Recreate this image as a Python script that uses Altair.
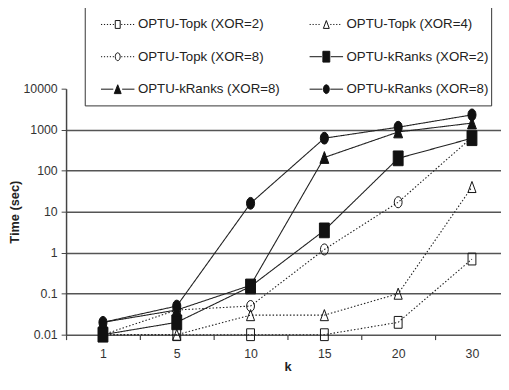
import altair as alt
import pandas as pd

# ---------------- data ----------------
k_values = ["1", "5", "10", "15", "20", "30"]
series_keys = ["topk2", "topk4", "topk8", "kranks2", "kranks8_tri", "kranks8_circ"]
legend_labels = [
    "OPTU-Topk (XOR=2)",
    "OPTU-Topk (XOR=4)",
    "OPTU-Topk (XOR=8)",
    "OPTU-kRanks (XOR=2)",
    "OPTU-kRanks (XOR=8)",
    "OPTU-kRanks (XOR=8)",
]
topk_xor2 = [0.01, 0.01, 0.01, 0.01, 0.02, 0.7]
topk_xor4 = [0.01, 0.01, 0.03, 0.03, 0.1, 40]
topk_xor8 = [0.01, 0.04, 0.05, 1.2, 17, 650]
kranks_xor2 = [0.01, 0.02, 0.15, 3.5, 200, 620]
kranks_tri = [0.02, 0.04, 0.16, 210, 880, 1450]
kranks_circ = [0.02, 0.05, 16, 620, 1150, 2300]
y_ticks = [0.01, 0.1, 1, 10, 100, 1000, 10000]

series_values = [topk_xor2, topk_xor4, topk_xor8, kranks_xor2, kranks_tri, kranks_circ]

rows = []
for key, vals in zip(series_keys, series_values):
    for k, v in zip(k_values, vals):
        rows.append({"series": key, "k": k, "time": v})
df = pd.DataFrame(rows)

# ---------------- styling helpers ----------------
FONT = "Liberation Sans"
INK = "#111111"
BAND = 75  # category width in px (the last category runs past the right edge)


def rect(w, h):
    return f"M{-w:.3f},{-h:.3f}H{w:.3f}V{h:.3f}H{-w:.3f}Z"


def tri(w, h):
    return f"M0,{-h:.3f}L{w:.3f},{h:.3f}H{-w:.3f}Z"


def ell(w, h):
    return (f"M0,{-h:.3f}A{w:.3f},{h:.3f} 0 1,1 0,{h:.3f}"
            f"A{w:.3f},{h:.3f} 0 1,1 0,{-h:.3f}Z")


# chart markers (unit = sqrt(size)/2 = 7.5 px)
chart_shapes = [
    rect(0.53, 0.80),
    tri(0.55, 0.75),
    ell(0.53, 0.75),
    rect(0.67, 1.00),
    tri(0.60, 0.80),
    ell(0.55, 0.80),
]

# legend symbols: line segment + marker (unit = 17 px)
U = 17.0


def dotted(x0, x1):
    step = 3.0 / U
    d = 1.2 / U
    parts = []
    x = x0
    while x + d <= x1 + 1e-9:
        parts.append(f"M{x:.3f},0h{d:.3f}")
        x += step
    return "".join(parts)


def solid(x0, x1):
    return f"M{x0:.3f},0H{x1:.3f}"


def leg(line_fn, marker, half_w):
    gap = 1.0 / U
    # trailing move-to extends each entry's bounds downward (row spacing)
    return (line_fn(-1.0, -half_w - gap) + line_fn(half_w + gap, 1.0) + marker
            + f"M0,{12 / U:.3f}")


legend_shapes = [
    leg(dotted, rect(2.5 / U, 4 / U), 2.5 / U),
    leg(dotted, tri(3 / U, 4 / U), 3 / U),
    leg(dotted, ell(2.5 / U, 4 / U), 2.5 / U),
    leg(solid, rect(3.5 / U, 5.5 / U), 3.5 / U),
    leg(solid, tri(3.5 / U, 4.5 / U), 3.5 / U),
    leg(solid, ell(3 / U, 4.5 / U), 3 / U),
]

fills = ["transparent", "transparent", "transparent", INK, INK, INK]
dashes = [[1.5, 2], [1.5, 2], [1.5, 2], [1, 0], [1, 0], [1, 0]]

# legend entries are laid out column by column (3 rows x 2 columns)
legend_order = [0, 2, 4, 1, 3, 5]
leg_keys = [series_keys[i] for i in legend_order]
leg_shapes = [legend_shapes[i] for i in legend_order]
leg_fills = [fills[i] for i in legend_order]

label_expr = " : ".join(
    f"datum.label == '{k}' ? '{l}'" for k, l in zip(series_keys, legend_labels)
) + " : datum.label"

legend_props = dict(
    orient="none",
    legendX=19,
    legendY=-85,
    columns=2,
    title=None,
    titlePadding=0,
    labelExpr=label_expr,
    labelFont=FONT,
    labelFontSize=13.5,
    labelColor="#222",
    labelLimit=0,
    labelOffset=3,
    symbolOffset=14,
    symbolSize=(2 * U) ** 2,
    symbolStrokeColor=INK,
    symbolStrokeWidth=1,
    columnPadding=15,
    rowPadding=1,
    padding=2,
    strokeColor="#333",
    fillColor="white",
)

x_enc = alt.X(
    "k:N",
    sort=k_values,
    scale=alt.Scale(domain=k_values, range=[0, BAND * len(k_values)],
                    paddingInner=0, paddingOuter=0),
    axis=alt.Axis(
        title="k",
        labelAngle=0,
        domain=False,
        tickSize=5,
        tickColor="#444",
        tickWidth=1.2,
        tickOffset=-BAND / 2,
        labelOffset=BAND / 2,
        labelPadding=8,
        labelFont=FONT,
        labelFontSize=12.5,
        labelColor="#333",
        titleFont=FONT,
        titleFontSize=13,
        titleFontWeight="bold",
        titleColor="#222",
        titlePadding=1,
        grid=False,
    ),
)

y_enc = alt.Y(
    "time:Q",
    scale=alt.Scale(type="log", domain=[0.01, 10000]),
    axis=alt.Axis(
        values=y_ticks,
        format="~g",
        title="Time (sec)",
        tickSize=5,
        tickColor="#444",
        domainColor="#444",
        domainWidth=1.5,
        labelPadding=4,
        labelFont=FONT,
        labelFontSize=12.5,
        labelColor="#333",
        titleFont=FONT,
        titleFontSize=13,
        titleFontWeight="bold",
        titleColor="#222",
        titlePadding=2,
        grid=True,
        gridColor="#555",
        gridWidth=1.5,
        gridOpacity=alt.condition("datum.value >= 10000", alt.value(0), alt.value(1)),
    ),
)

lines = alt.Chart(df).mark_line(color="#222", strokeWidth=1.1).encode(
    x=x_enc,
    y=y_enc,
    detail="series:N",
    strokeDash=alt.StrokeDash(
        "series:N",
        scale=alt.Scale(domain=series_keys, range=dashes),
        legend=None,
    ),
)

points = alt.Chart(df).mark_point(
    filled=True, stroke=INK, strokeWidth=1, size=225, opacity=1
).encode(
    x=x_enc,
    y=y_enc,
    shape=alt.Shape("series:N", scale=alt.Scale(domain=series_keys, range=chart_shapes), legend=None),
    fill=alt.Fill("series:N", scale=alt.Scale(domain=series_keys, range=fills), legend=None),
)

legend_layer = alt.Chart(df).transform_filter("false").mark_point(
    filled=True, stroke=INK, strokeWidth=1, size=(2 * U) ** 2, opacity=1
).encode(
    x=x_enc,
    y=y_enc,
    shape=alt.Shape(
        "series:N",
        scale=alt.Scale(domain=leg_keys, range=leg_shapes),
        legend=alt.Legend(**legend_props),
    ),
    fill=alt.Fill(
        "series:N",
        scale=alt.Scale(domain=leg_keys, range=leg_fills),
        legend=alt.Legend(**legend_props),
    ),
    stroke=alt.Stroke(
        "series:N",
        scale=alt.Scale(domain=leg_keys, range=[INK] * 6),
        legend=alt.Legend(**legend_props),
    ),
)

chart = (
    alt.layer(lines, points, legend_layer)
    .resolve_scale(shape="independent", fill="independent", stroke="independent")
    .properties(
        width=501,
        height=369,
        autosize=alt.AutoSizeParams(type="fit", contains="padding"),
        padding={"left": 0, "top": 73, "right": 0, "bottom": 0},
        background="white",
    )
    .configure_view(stroke=None)
)

chart.save("out.html", embed_options={"renderer": "svg", "actions": False})
